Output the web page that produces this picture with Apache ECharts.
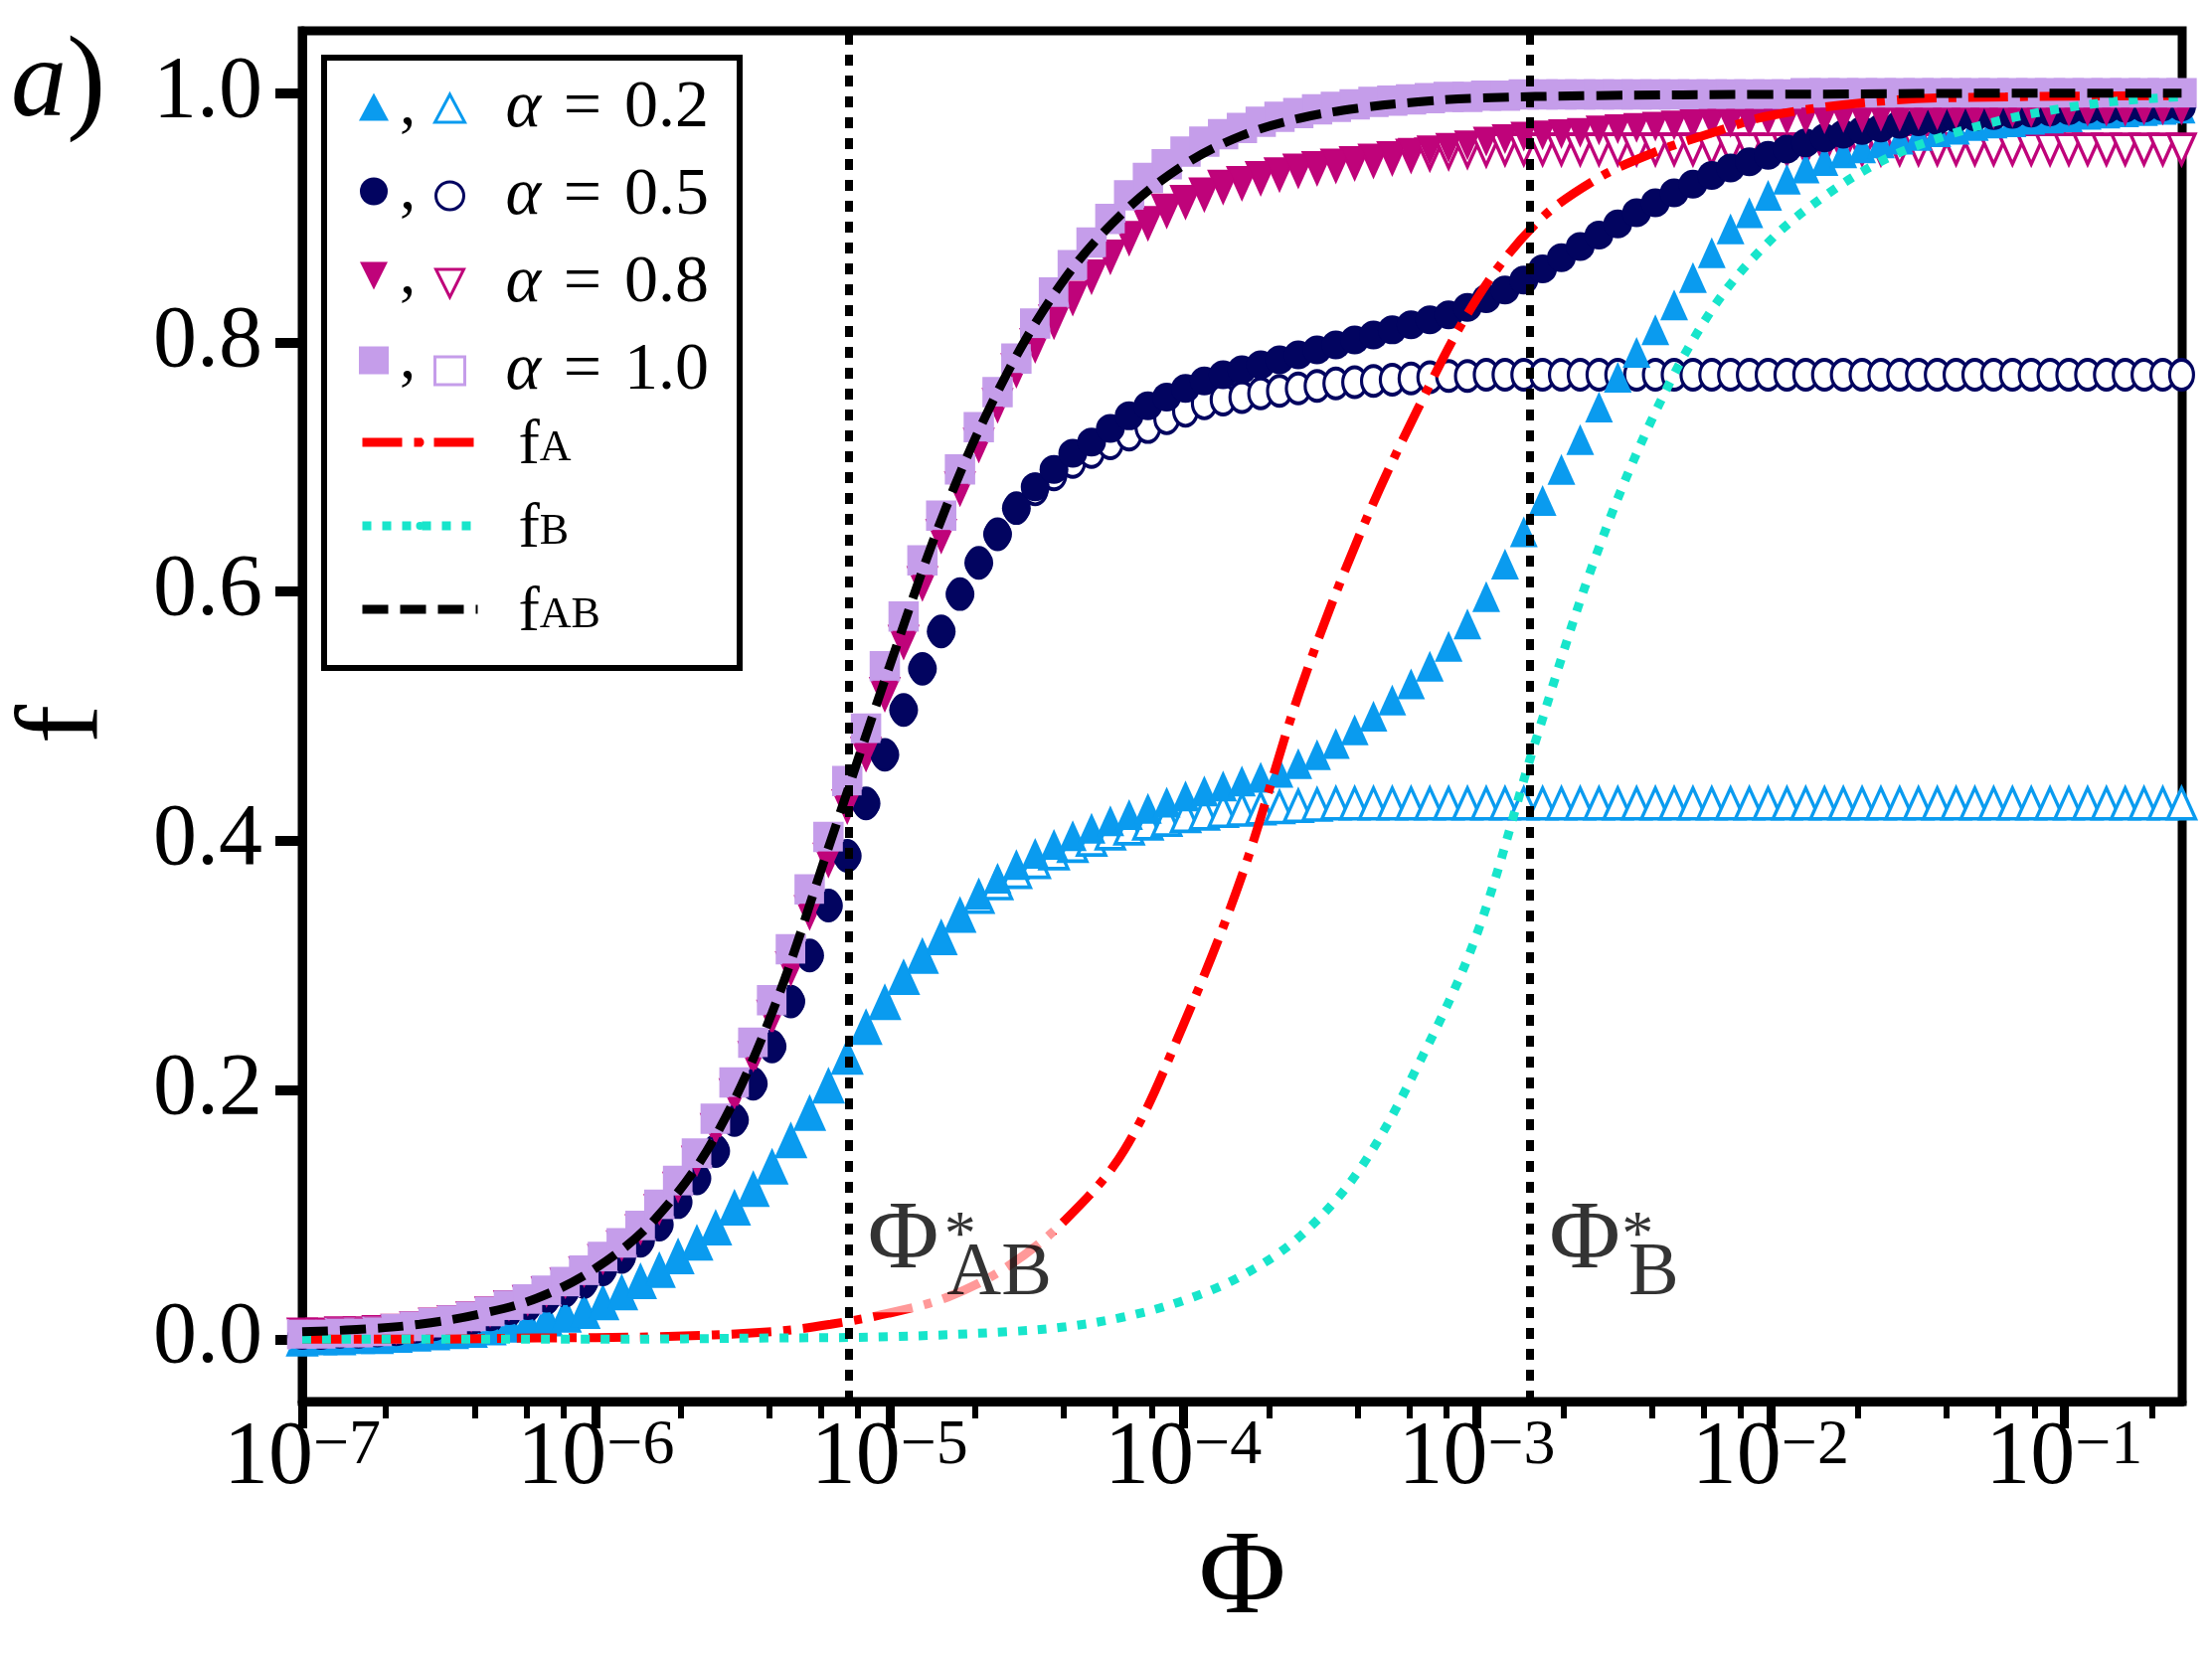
<!DOCTYPE html>
<html>
<head>
<meta charset="utf-8">
<script src="https://cdn.jsdelivr.net/npm/echarts@6/dist/echarts.min.js"></script>
<style>
  html, body { margin: 0; padding: 0; background: #fff; }
  #chart { width: 2225px; height: 1665px; }
</style>
</head>
<body>
<div id="chart"></div>
<script>
// x positions of the markers, as log10(Phi)
const log10Phi = [
  -7.000, -6.936, -6.872, -6.808, -6.744, -6.680, -6.616, -6.552, -6.488, -6.424,
  -6.360, -6.296, -6.232, -6.168, -6.104, -6.040, -5.976, -5.912, -5.848, -5.784,
  -5.720, -5.656, -5.592, -5.528, -5.464, -5.400, -5.336, -5.272, -5.208, -5.144,
  -5.080, -5.016, -4.952, -4.888, -4.824, -4.760, -4.696, -4.632, -4.568, -4.504,
  -4.440, -4.376, -4.312, -4.248, -4.184, -4.120, -4.056, -3.992, -3.928, -3.864,
  -3.800, -3.736, -3.672, -3.608, -3.544, -3.480, -3.416, -3.352, -3.288, -3.224,
  -3.160, -3.096, -3.032, -2.968, -2.904, -2.840, -2.776, -2.712, -2.648, -2.584,
  -2.520, -2.456, -2.392, -2.328, -2.264, -2.200, -2.136, -2.072, -2.008, -1.944,
  -1.880, -1.816, -1.752, -1.688, -1.624, -1.560, -1.496, -1.432, -1.368, -1.304,
  -1.240, -1.176, -1.112, -1.048, -0.984, -0.920, -0.856, -0.792, -0.728, -0.664,
  -0.600
];

// alpha = 0.2
const alpha02Filled = [
  0.000, 0.001, 0.001, 0.002, 0.002, 0.003, 0.004, 0.005, 0.006, 0.007,
  0.009, 0.011, 0.013, 0.016, 0.019, 0.022, 0.029, 0.037, 0.046, 0.055,
  0.066, 0.077, 0.089, 0.105, 0.120, 0.138, 0.159, 0.181, 0.203, 0.226,
  0.250, 0.270, 0.290, 0.307, 0.322, 0.340, 0.357, 0.370, 0.381, 0.390,
  0.397, 0.404, 0.410, 0.416, 0.421, 0.426, 0.431, 0.436, 0.440, 0.444,
  0.448, 0.451, 0.455, 0.462, 0.469, 0.478, 0.489, 0.500, 0.513, 0.526,
  0.540, 0.556, 0.574, 0.596, 0.622, 0.648, 0.673, 0.698, 0.722, 0.748,
  0.772, 0.792, 0.810, 0.830, 0.852, 0.872, 0.891, 0.904, 0.918, 0.931,
  0.940, 0.946, 0.952, 0.956, 0.960, 0.963, 0.966, 0.969, 0.971, 0.974,
  0.976, 0.977, 0.979, 0.980, 0.981, 0.983, 0.984, 0.985, 0.986, 0.987,
  0.988
];
const alpha02Open = [
  0.000, 0.001, 0.001, 0.002, 0.002, 0.003, 0.004, 0.005, 0.006, 0.007,
  0.009, 0.011, 0.013, 0.016, 0.019, 0.022, 0.029, 0.037, 0.046, 0.055,
  0.066, 0.077, 0.089, 0.105, 0.120, 0.138, 0.159, 0.181, 0.203, 0.226,
  0.250, 0.270, 0.290, 0.307, 0.322, 0.340, 0.355, 0.366, 0.375, 0.383,
  0.390, 0.396, 0.401, 0.406, 0.410, 0.414, 0.417, 0.420, 0.422, 0.424,
  0.425, 0.426, 0.427, 0.428, 0.429, 0.430, 0.430, 0.430, 0.430, 0.430,
  0.430, 0.430, 0.430, 0.430, 0.430, 0.430, 0.430, 0.430, 0.430, 0.430,
  0.430, 0.430, 0.430, 0.430, 0.430, 0.430, 0.430, 0.430, 0.430, 0.430,
  0.430, 0.430, 0.430, 0.430, 0.430, 0.430, 0.430, 0.430, 0.430, 0.430,
  0.430, 0.430, 0.430, 0.430, 0.430, 0.430, 0.430, 0.430, 0.430, 0.430,
  0.430
];

// alpha = 0.5
const alpha05Filled = [
  0.003, 0.003, 0.004, 0.004, 0.005, 0.006, 0.008, 0.010, 0.013, 0.015,
  0.018, 0.023, 0.027, 0.033, 0.039, 0.046, 0.056, 0.066, 0.079, 0.092,
  0.110, 0.129, 0.151, 0.176, 0.205, 0.235, 0.271, 0.308, 0.348, 0.388,
  0.430, 0.469, 0.505, 0.538, 0.568, 0.598, 0.623, 0.646, 0.667, 0.684,
  0.698, 0.711, 0.720, 0.731, 0.741, 0.749, 0.756, 0.763, 0.769, 0.774,
  0.778, 0.782, 0.786, 0.790, 0.794, 0.798, 0.802, 0.806, 0.810, 0.814,
  0.818, 0.822, 0.828, 0.835, 0.842, 0.850, 0.859, 0.868, 0.877, 0.886,
  0.895, 0.904, 0.912, 0.920, 0.927, 0.934, 0.940, 0.945, 0.950, 0.955,
  0.960, 0.964, 0.967, 0.970, 0.972, 0.975, 0.977, 0.978, 0.980, 0.981,
  0.982, 0.983, 0.984, 0.985, 0.986, 0.987, 0.987, 0.988, 0.988, 0.989,
  0.989
];
const alpha05Open = [
  0.003, 0.003, 0.004, 0.004, 0.005, 0.006, 0.008, 0.010, 0.013, 0.015,
  0.018, 0.023, 0.027, 0.033, 0.039, 0.046, 0.056, 0.066, 0.079, 0.092,
  0.110, 0.129, 0.151, 0.176, 0.205, 0.235, 0.271, 0.308, 0.348, 0.388,
  0.430, 0.469, 0.505, 0.538, 0.568, 0.598, 0.623, 0.646, 0.667, 0.682,
  0.694, 0.704, 0.712, 0.719, 0.726, 0.732, 0.739, 0.745, 0.751, 0.754,
  0.756, 0.759, 0.761, 0.763, 0.765, 0.767, 0.768, 0.769, 0.770, 0.771,
  0.772, 0.773, 0.773, 0.774, 0.774, 0.774, 0.774, 0.774, 0.774, 0.774,
  0.774, 0.774, 0.774, 0.774, 0.774, 0.774, 0.774, 0.774, 0.774, 0.774,
  0.774, 0.774, 0.774, 0.774, 0.774, 0.774, 0.774, 0.774, 0.774, 0.774,
  0.774, 0.774, 0.774, 0.774, 0.774, 0.774, 0.774, 0.774, 0.774, 0.774,
  0.774
];

// alpha = 0.8
const alpha08Filled = [
  0.004, 0.004, 0.005, 0.005, 0.006, 0.007, 0.009, 0.012, 0.014, 0.017,
  0.021, 0.026, 0.030, 0.037, 0.044, 0.053, 0.063, 0.074, 0.087, 0.103,
  0.121, 0.142, 0.168, 0.196, 0.226, 0.259, 0.298, 0.343, 0.385, 0.428,
  0.470, 0.518, 0.560, 0.607, 0.645, 0.683, 0.718, 0.750, 0.778, 0.798,
  0.817, 0.836, 0.853, 0.869, 0.884, 0.896, 0.906, 0.913, 0.919, 0.925,
  0.928, 0.932, 0.935, 0.938, 0.940, 0.942, 0.945, 0.947, 0.949, 0.952,
  0.954, 0.956, 0.958, 0.961, 0.963, 0.965, 0.966, 0.967, 0.968, 0.970,
  0.971, 0.972, 0.973, 0.974, 0.975, 0.976, 0.976, 0.977, 0.978, 0.978,
  0.979, 0.979, 0.980, 0.980, 0.981, 0.981, 0.982, 0.982, 0.983, 0.983,
  0.983, 0.984, 0.984, 0.984, 0.985, 0.985, 0.985, 0.985, 0.986, 0.986,
  0.986
];
const alpha08Open = [
  0.004, 0.004, 0.005, 0.005, 0.006, 0.007, 0.009, 0.012, 0.014, 0.017,
  0.021, 0.026, 0.030, 0.037, 0.044, 0.053, 0.063, 0.074, 0.087, 0.103,
  0.121, 0.142, 0.168, 0.196, 0.226, 0.259, 0.298, 0.343, 0.385, 0.428,
  0.470, 0.518, 0.560, 0.607, 0.645, 0.683, 0.718, 0.750, 0.778, 0.798,
  0.817, 0.836, 0.853, 0.869, 0.884, 0.896, 0.906, 0.913, 0.919, 0.925,
  0.928, 0.932, 0.935, 0.938, 0.940, 0.942, 0.944, 0.946, 0.948, 0.950,
  0.951, 0.952, 0.953, 0.954, 0.955, 0.955, 0.955, 0.955, 0.955, 0.955,
  0.955, 0.955, 0.955, 0.955, 0.955, 0.955, 0.955, 0.955, 0.955, 0.955,
  0.955, 0.955, 0.955, 0.955, 0.955, 0.955, 0.955, 0.955, 0.955, 0.955,
  0.955, 0.955, 0.955, 0.955, 0.955, 0.955, 0.955, 0.955, 0.955, 0.955,
  0.955
];

// alpha = 1.0
const alpha10Filled = [
  0.004, 0.004, 0.005, 0.005, 0.006, 0.008, 0.010, 0.013, 0.015, 0.018,
  0.022, 0.027, 0.032, 0.039, 0.046, 0.055, 0.066, 0.077, 0.091, 0.108,
  0.127, 0.149, 0.177, 0.206, 0.238, 0.272, 0.313, 0.361, 0.403, 0.448,
  0.490, 0.540, 0.580, 0.625, 0.661, 0.698, 0.732, 0.760, 0.787, 0.815,
  0.840, 0.862, 0.880, 0.899, 0.918, 0.932, 0.943, 0.953, 0.961, 0.967,
  0.972, 0.977, 0.981, 0.984, 0.987, 0.989, 0.991, 0.993, 0.994, 0.995,
  0.996, 0.997, 0.997, 0.998, 0.998, 0.999, 0.999, 0.999, 0.999, 0.999,
  0.999, 0.999, 0.999, 0.999, 0.999, 0.999, 0.999, 0.999, 0.999, 0.999,
  1.000, 1.000, 1.000, 1.000, 1.000, 1.000, 1.000, 1.000, 1.000, 1.000,
  1.000, 1.000, 1.000, 1.000, 1.000, 1.000, 1.000, 1.000, 1.000, 1.000,
  1.000
];
const alpha10Open = [
  0.004, 0.004, 0.005, 0.005, 0.006, 0.008, 0.010, 0.013, 0.015, 0.018,
  0.022, 0.027, 0.032, 0.039, 0.046, 0.055, 0.066, 0.077, 0.091, 0.108,
  0.127, 0.149, 0.177, 0.206, 0.238, 0.272, 0.313, 0.361, 0.403, 0.448,
  0.490, 0.540, 0.580, 0.625, 0.661, 0.698, 0.732, 0.760, 0.787, 0.815,
  0.840, 0.862, 0.880, 0.899, 0.918, 0.932, 0.943, 0.953, 0.961, 0.967,
  0.972, 0.977, 0.981, 0.984, 0.987, 0.989, 0.991, 0.993, 0.994, 0.995,
  0.996, 0.997, 0.997, 0.998, 0.998, 0.999, 0.999, 0.999, 0.999, 0.999,
  0.999, 0.999, 0.999, 0.999, 0.999, 0.999, 0.999, 0.999, 0.999, 0.999,
  1.000, 1.000, 1.000, 1.000, 1.000, 1.000, 1.000, 1.000, 1.000, 1.000,
  1.000, 1.000, 1.000, 1.000, 1.000, 1.000, 1.000, 1.000, 1.000, 1.000,
  1.000
];

// analytic curves, read at their own x positions
const fAx = [-7.0, -6.6, -6.2, -5.8, -5.4, -5.2, -5.0, -4.8, -4.6, -4.4, -4.2, -4.0, -3.8,
             -3.6, -3.4, -3.2, -3.0, -2.8, -2.6, -2.4, -2.2, -2.0, -1.6, -1.2, -0.6];
const fAy = [0.000, 0.000, 0.001, 0.002, 0.006, 0.012, 0.021, 0.034, 0.058, 0.096, 0.152, 0.252, 0.372,
             0.522, 0.645, 0.747, 0.835, 0.895, 0.930, 0.952, 0.968, 0.982, 0.994, 0.997, 0.998];
const fBx = [-7.0, -6.0, -5.4, -5.0, -4.6, -4.4, -4.2, -4.0, -3.8, -3.6, -3.4, -3.2, -3.0,
             -2.8, -2.6, -2.4, -2.2, -2.0, -1.8, -1.6, -1.4, -1.2, -1.0, -0.8, -0.6];
const fBy = [0.000, 0.000, 0.001, 0.002, 0.006, 0.010, 0.018, 0.031, 0.051, 0.083, 0.136, 0.220, 0.325,
             0.480, 0.625, 0.740, 0.826, 0.882, 0.920, 0.948, 0.966, 0.979, 0.988, 0.994, 0.997];
const fABx = [-7.0, -6.8, -6.6, -6.4, -6.2, -6.0, -5.8, -5.6, -5.4, -5.2, -5.0, -4.8, -4.6,
              -4.4, -4.2, -4.0, -3.8, -3.6, -3.4, -3.2, -3.0, -2.6, -2.0, -1.0, -0.6];
const fABy = [0.006, 0.008, 0.012, 0.020, 0.033, 0.057, 0.096, 0.160, 0.262, 0.400, 0.540, 0.672, 0.775,
              0.852, 0.905, 0.942, 0.966, 0.980, 0.988, 0.993, 0.996, 0.998, 0.999, 1.000, 1.000];

// thresholds (log10 Phi)
const phiStarAB = -5.139;
const phiStarB = -2.818;

// axes
const xMin = -7, xMax = -0.598;
const decadeTicks = [-7, -6, -5, -4, -3, -2, -1];
const minorMultipliers = [2, 4, 6, 8];
const yTicks = [0, 0.2, 0.4, 0.6, 0.8, 1.0];

const FONT = '"Liberation Serif", "DejaVu Serif", serif';
const C02 = '#0A9BEF', C05 = '#020460', C08 = '#BF037A', C10 = '#C59DEA';
const CA = '#FF0000', CB = '#17E5CB', CAB = '#000000';
const DOWN_TRIANGLE = 'path://M0,0L20,0L10,20Z';

const minorTicks = [];
decadeTicks.forEach(d => minorMultipliers.forEach(m => {
  const v = d + Math.log10(m);
  if (v < xMax) minorTicks.push(v);
}));

function pts(ys) { return log10Phi.map((u, i) => [u, ys[i]]); }
function zip(xs, ys) { return xs.map((u, i) => [u, ys[i]]); }

function markers(name, ys, symbol, color, filled, size) {
  return {
    name, type: 'scatter', data: pts(ys), symbol, symbolSize: size,
    itemStyle: filled
      ? { color, opacity: 1, borderWidth: 0 }
      : { color: '#fff', borderColor: color, borderWidth: 3.5, opacity: 1 },
    silent: true, z: 2, clip: true
  };
}

function curve(name, xs, ys, color, dash) {
  return {
    name, type: 'line', data: zip(xs, ys), symbol: 'none', smooth: 0.35,
    lineStyle: { color, width: 9, type: dash, cap: 'butt' },
    itemStyle: { color }, silent: true, z: 4, clip: true
  };
}

const alphaText = { a02o: '0.2', a05o: '0.5', a08o: '0.8', a10o: '1.0' };
const subText = { fA: 'A', fB: 'B', fAB: 'AB' };

const chart = echarts.init(document.getElementById('chart'));

chart.setOption({
  animation: false,
  backgroundColor: '#fff',
  grid: [
    { left: 299, right: 30, top: 31, bottom: 255, show: true, borderColor: '#000', borderWidth: 9, backgroundColor: 'transparent' },
    { left: 299, right: 30, top: 31, bottom: 255, show: false }
  ],
  xAxis: [
    {
      type: 'value', gridIndex: 0, min: xMin, max: xMax,
      axisLine: { show: true, onZero: false, lineStyle: { color: '#000', width: 9 } },
      axisTick: { show: true, customValues: decadeTicks, length: 27, lineStyle: { color: '#000', width: 9 } },
      axisLabel: {
        customValues: decadeTicks, margin: 13,
        formatter: v => '{b|10}{s|\u2212' + Math.round(-v) + '}',
        rich: {
          b: { fontFamily: FONT, fontSize: 90, color: '#000', lineHeight: 110, verticalAlign: 'top' },
          s: { fontFamily: FONT, fontSize: 64, color: '#000', lineHeight: 60, verticalAlign: 'top' }
        }
      },
      splitLine: { show: false },
      name: '\u03A6', nameLocation: 'middle', nameGap: 120,
      nameTextStyle: { fontFamily: FONT, fontSize: 120, color: '#000' }
    },
    {
      type: 'value', gridIndex: 1, min: xMin, max: xMax,
      axisLine: { show: false, onZero: false },
      axisTick: { show: true, customValues: minorTicks, length: 17, lineStyle: { color: '#000', width: 6 } },
      axisLabel: { show: false },
      splitLine: { show: false }
    }
  ],
  yAxis: [
    {
      type: 'value', gridIndex: 0, min: -0.05, max: 1.05,
      axisLine: { show: true, onZero: false, lineStyle: { color: '#000', width: 9 } },
      axisTick: { show: true, customValues: yTicks, length: 27, lineStyle: { color: '#000', width: 10 } },
      axisLabel: {
        customValues: yTicks, margin: 40, formatter: v => v.toFixed(1),
        fontFamily: FONT, fontSize: 88, color: '#000'
      },
      splitLine: { show: false },
      name: 'f', nameLocation: 'middle', nameRotate: 90, nameGap: 178,
      nameTextStyle: { fontFamily: FONT, fontSize: 118, color: '#000', padding: [0, 16, 0, 0] }
    },
    { type: 'value', gridIndex: 1, min: -0.05, max: 1.05, show: false }
  ],
  legend: [
    {
      data: ['a02', 'a05', 'a08', 'a10'], orient: 'vertical', left: 361, top: 75, padding: 0,
      itemWidth: 30, itemHeight: 28, itemGap: 20, selectedMode: false, z: 6,
      formatter: () => ',',
      textStyle: { fontFamily: FONT, fontSize: 65, color: '#000', lineHeight: 56, padding: [0, 0, 0, 6] },
      itemStyle: { borderWidth: 0 }
    },
    {
      data: ['a02o', 'a05o', 'a08o', 'a10o'], orient: 'vertical', left: 436, top: 75, padding: 0,
      itemWidth: 30, itemHeight: 28, itemGap: 20, selectedMode: false, z: 6,
      formatter: n => '{a|\u03B1}{t|\u2004=\u2004' + alphaText[n] + '}',
      textStyle: {
        fontFamily: FONT, fontSize: 68, color: '#000', lineHeight: 56,
        rich: {
          a: { fontFamily: FONT, fontSize: 68, fontStyle: 'italic', lineHeight: 56, padding: [0, 0, 0, 36] },
          t: { fontFamily: FONT, fontSize: 68, lineHeight: 56 }
        }
      },
      itemStyle: { borderWidth: 3 }
    },
    {
      data: ['fA', 'fB', 'fAB'], orient: 'vertical', left: 360, top: 417, padding: 0,
      itemWidth: 116, itemHeight: 10, itemGap: 20, selectedMode: false, z: 6,
      lineStyle: { width: 9 },
      formatter: n => '{f|f}{s|' + subText[n] + '}',
      textStyle: {
        fontFamily: FONT, fontSize: 64, color: '#000', lineHeight: 56,
        rich: {
          f: { fontFamily: FONT, fontSize: 64, lineHeight: 56, verticalAlign: 'top', padding: [0, 0, 0, 36] },
          s: { fontFamily: FONT, fontSize: 44, lineHeight: 26, verticalAlign: 'bottom' }
        }
      }
    }
  ],
  graphic: [
    {
      type: 'rect', left: 323, top: 55, z: 5,
      shape: { width: 418, height: 614 },
      style: { fill: '#fff', stroke: '#000', lineWidth: 6 }
    },
    {
      type: 'text', left: 11, top: 28, z: 5,
      style: {
        text: '{i|a}{n|)}',
        rich: {
          i: { fontFamily: FONT, fontSize: 112, fontStyle: 'italic', fill: '#000' },
          n: { fontFamily: FONT, fontSize: 118, fill: '#000' }
        }
      }
    }
  ],
  series: [
    markers('a02o', alpha02Open, 'triangle', C02, false, [28, 31]),
    markers('a05o', alpha05Open, 'circle', C05, false, [24, 30]),
    markers('a08o', alpha08Open, DOWN_TRIANGLE, C08, false, [27, 30]),
    markers('a10o', alpha10Open, 'rect', C10, false, [27, 27]),
    markers('a02', alpha02Filled, 'triangle', C02, true, [28, 31]),
    markers('a05', alpha05Filled, 'circle', C05, true, [29, 29]),
    markers('a08', alpha08Filled, DOWN_TRIANGLE, C08, true, [27, 30]),
    markers('a10', alpha10Filled, 'rect', C10, true, [29, 29]),
    curve('fA', fAx, fAy, CA, [40, 12, 8, 12]),
    curve('fB', fBx, fBy, CB, [9, 11]),
    curve('fAB', fABx, fABy, CAB, [26, 12]),
    {
      name: 'thresholds', type: 'scatter', symbolSize: 0, silent: true, z: 8,
      data: [
        { value: [phiStarAB, 0], label: { show: true, position: [15, -147], formatter: '{p|\u03A6}{s|AB}' } },
        { value: [phiStarAB, 0], label: { show: true, position: [92, -122], formatter: '{st|*}', backgroundColor: 'transparent' } },
        { value: [phiStarB, 0], label: { show: true, position: [15, -147], formatter: '{p|\u03A6}{s|B}' } },
        { value: [phiStarB, 0], label: { show: true, position: [88, -122], formatter: '{st|*}', backgroundColor: 'transparent' } }
      ],
      label: {
        color: '#000', backgroundColor: 'rgba(255,255,255,0.75)', padding: [0, 4, 0, 4],
        rich: {
          p: { fontFamily: FONT, fontSize: 98, lineHeight: 120, verticalAlign: 'top' },
          s: { fontFamily: FONT, fontSize: 76, lineHeight: 50, verticalAlign: 'bottom', padding: [0, 0, 0, 8] },
          st: { fontFamily: FONT, fontSize: 64, lineHeight: 40 }
        }
      },
      markLine: {
        silent: true, symbol: ['none', 'none'], label: { show: false },
        lineStyle: { color: '#000', width: 8, type: [11, 10], cap: 'butt' },
        data: [{ xAxis: phiStarAB }, { xAxis: phiStarB }]
      }
    }
  ]
});
</script>
</body>
</html>
